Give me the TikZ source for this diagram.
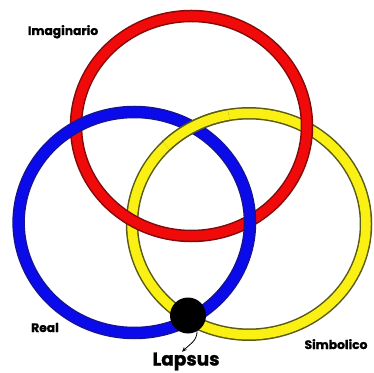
\documentclass[tikz,border=0pt]{standalone}
\usepackage{fontspec}
\setmainfont{Poppins}[BoldFeatures={FakeBold=1.2}]
\usetikzlibrary{arrows.meta,calc}
\definecolor{ringred}{RGB}{240,10,10}
\definecolor{ringredout}{RGB}{130,10,10}
\definecolor{ringblue}{RGB}{10,10,235}
\definecolor{ringblueout}{RGB}{20,20,150}
\definecolor{ringyellow}{RGB}{250,240,20}
\definecolor{ringyellowout}{RGB}{90,90,20}
\tikzset{
  outline/.style={line width=12.5pt},
  inner/.style={line width=9.5pt},
  lbl/.style={font=\bfseries\fontsize{12.3}{13}\selectfont, anchor=base, inner sep=0pt},
  big/.style={font=\bfseries\fontsize{18.5}{20}\selectfont, anchor=base, inner sep=0pt},
}
\begin{document}
\begin{tikzpicture}[x=1pt,y=1pt]
\useasboundingbox (0,0) rectangle (374,372);
% yellow ring
\draw[outline, ringyellowout] (249,148) ellipse [x radius=117pt, y radius=110.7pt];
\draw[inner, ringyellow] (249,148) ellipse [x radius=117pt, y radius=110.7pt];
% red ring
\draw[outline, ringredout] (191.5,246) ellipse [x radius=115.5pt, y radius=110pt];
\draw[inner, ringred] (191.5,246) ellipse [x radius=115.5pt, y radius=110pt];
% blue ring
\draw[outline, ringblueout] (134.3,149.5) ellipse [x radius=115.7pt, y radius=110.5pt];
\draw[inner, ringblue] (134.3,149.5) ellipse [x radius=115.7pt, y radius=110.5pt];
% yellow over blue at top crossing
\draw[outline, ringyellowout] ($(249,148)+(100:117pt and 110.7pt)$) arc[start angle=100, end angle=135, x radius=117pt, y radius=110.7pt];
\draw[inner, ringyellow] ($(249,148)+(100:117pt and 110.7pt)$) arc[start angle=100, end angle=135, x radius=117pt, y radius=110.7pt];
% lapsus dot
\node[circle, fill=black, minimum size=36pt, inner sep=0pt] (dot) at (188,56.5) {};
% labels
\node[lbl] (imag) at (63,337) {Imaginario};
\node[lbl] (real) at (45,40) {Real};
\node[lbl] (simb) at (336,23) {Simbolico};
\node[big] (lapsus) at (186,6.5) {Lapsus};
\coordinate (tip) at ($(lapsus.north)+(-4,0.5)$);
\draw[-{Stealth[length=5pt,width=4pt]}, line width=0.8pt] (dot.-60) to[out=-90, in=45] (tip);
\end{tikzpicture}
\end{document}
